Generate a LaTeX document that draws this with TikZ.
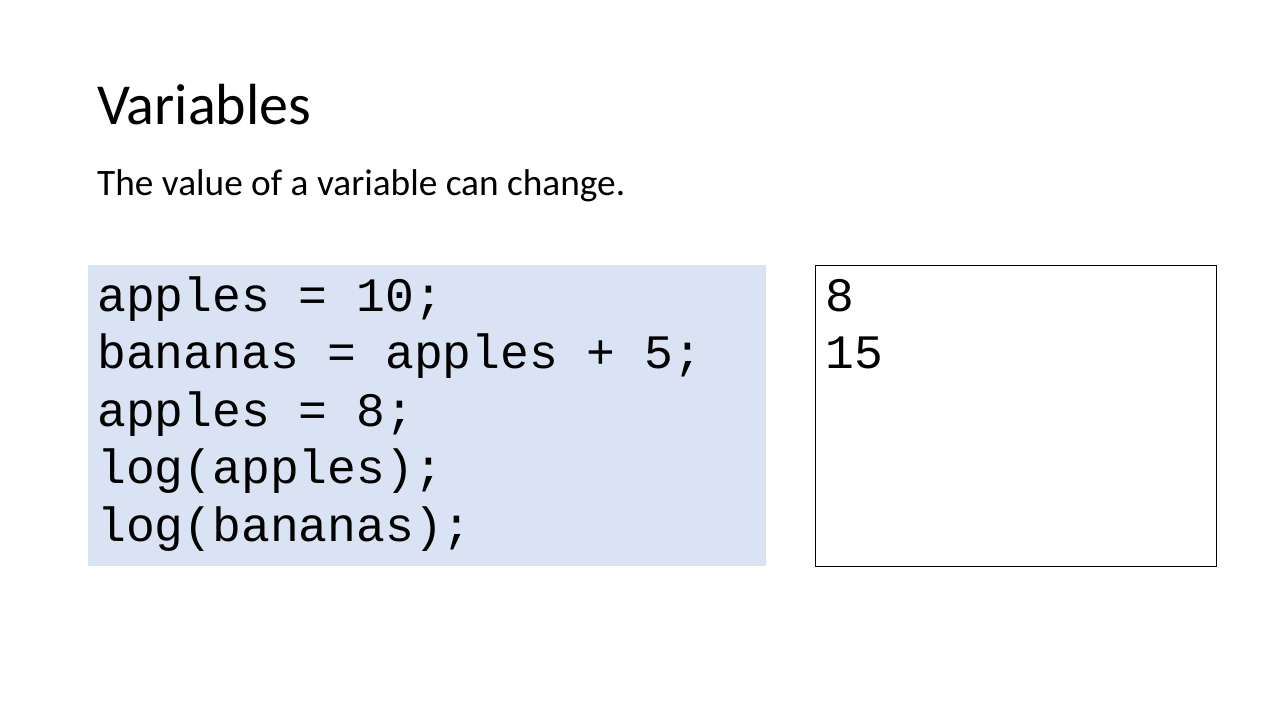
\documentclass[tikz,border=0pt]{standalone}
\usepackage{fontspec}
\setmainfont{Carlito}
\newfontfamily\codefont{Liberation Mono}
\definecolor{codebg}{HTML}{DAE3F3}
\begin{document}
\begin{tikzpicture}[x=1pt,y=-1pt,
  txt/.style={anchor=base west,inner sep=0pt},
  codeline/.style={txt,font=\codefont\fontsize{48}{57.5}\selectfont}]
\useasboundingbox[fill=white] (0,0) rectangle (1280,720);
\node[txt,font=\fontsize{58}{70}\selectfont] (title) at (97,124) {Variables};
\node[txt,font=\fontsize{37.3}{45}\selectfont] (sub) at (97,195) {The value of a variable can change.};
\path[fill=codebg] (88,265) rectangle (766,566);
\node[codeline] (c1) at (97,311) {apples = 10;};
\node[codeline] (c2) at (97,368.5) {bananas = apples + 5;};
\node[codeline] (c3) at (97,426) {apples = 8;};
\node[codeline] (c4) at (97,483.5) {log(apples);};
\node[codeline] (c5) at (97,541) {log(bananas);};
\draw[line width=1pt] (815.5,265.5) rectangle (1216.5,566.5);
\node[codeline] (o1) at (825,311) {8};
\node[codeline] (o2) at (825,368.5) {15};
\end{tikzpicture}
\end{document}
